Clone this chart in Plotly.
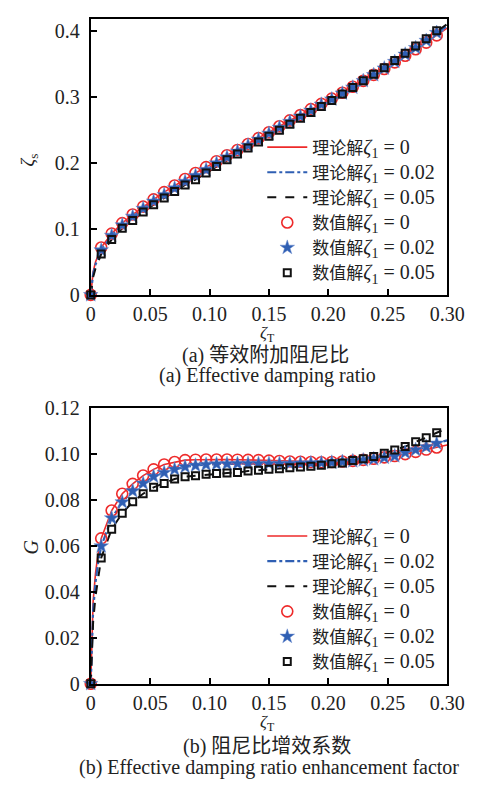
import plotly.graph_objects as go

# ---------------- data ----------------
zeta_T = [0, 0.0088, 0.0176, 0.0265, 0.0353, 0.0441, 0.0529, 0.0618, 0.0706, 0.0794,
          0.0882, 0.0971, 0.1059, 0.1147, 0.1235, 0.1324, 0.1412, 0.1500, 0.1588, 0.1676,
          0.1765, 0.1853, 0.1941, 0.2029, 0.2118, 0.2206, 0.2294, 0.2382, 0.2471, 0.2559,
          0.2647, 0.2735, 0.2824, 0.2912]

# (a) zeta_s
zs_0 = [0, 0.072, 0.093, 0.109, 0.122, 0.134, 0.145, 0.156, 0.166, 0.176, 0.185, 0.194,
        0.203, 0.212, 0.220, 0.229, 0.238, 0.247, 0.256, 0.265, 0.273, 0.282, 0.290, 0.298,
        0.307, 0.316, 0.325, 0.334, 0.343, 0.353, 0.363, 0.373, 0.383, 0.394]
zs_002 = [0, 0.068, 0.090, 0.106, 0.119, 0.131, 0.142, 0.152, 0.162, 0.172, 0.181, 0.190,
          0.200, 0.209, 0.218, 0.227, 0.236, 0.245, 0.254, 0.263, 0.271, 0.280, 0.289, 0.297,
          0.306, 0.315, 0.325, 0.334, 0.344, 0.354, 0.365, 0.375, 0.386, 0.398]
zs_005 = [0, 0.062, 0.084, 0.101, 0.113, 0.126, 0.137, 0.147, 0.157, 0.167, 0.175, 0.185,
          0.195, 0.205, 0.214, 0.223, 0.232, 0.241, 0.250, 0.259, 0.268, 0.277, 0.286, 0.295,
          0.305, 0.315, 0.325, 0.335, 0.345, 0.356, 0.367, 0.378, 0.389, 0.401]

# (b) G
G_0 = [0, 0.0632, 0.0753, 0.0826, 0.0869, 0.0905, 0.0932, 0.0953, 0.0964, 0.0972, 0.0974,
       0.0975, 0.0975, 0.0975, 0.0974, 0.0973, 0.0972, 0.0970, 0.0968, 0.0966, 0.0965,
       0.0964, 0.0963, 0.0964, 0.0966, 0.0969, 0.0973, 0.0978, 0.0984, 0.0990, 0.0998,
       0.1008, 0.1018, 0.1027]
G_002 = [0, 0.0598, 0.0720, 0.0790, 0.0838, 0.0871, 0.0901, 0.0918, 0.0932, 0.0943, 0.0949,
         0.0953, 0.0955, 0.0956, 0.0957, 0.0957, 0.0957, 0.0957, 0.0957, 0.0957, 0.0958,
         0.0959, 0.0960, 0.0962, 0.0965, 0.0968, 0.0972, 0.0977, 0.0983, 0.0990, 0.1005,
         0.1017, 0.1030, 0.1045]
G_005 = [0, 0.0547, 0.0672, 0.0741, 0.0791, 0.0826, 0.0854, 0.0871, 0.0890, 0.0900, 0.0904,
         0.0911, 0.0914, 0.0916, 0.0918, 0.0925, 0.0928, 0.0932, 0.0935, 0.0939, 0.0942,
         0.0946, 0.0950, 0.0956, 0.0960, 0.0970, 0.0978, 0.0988, 0.1002, 0.1016, 0.1031,
         0.1052, 0.1069, 0.1091]

# theory curves: extra near-origin points and end point
x_head = [0, 0.001, 0.002, 0.004, 0.006]
x_tail = [0.30]
zs_head = {"0": [0, 0.025, 0.035, 0.050, 0.060], "002": [0, 0.022, 0.032, 0.046, 0.056],
           "005": [0, 0.018, 0.027, 0.040, 0.050]}
zs_tail = {"0": [0.405], "002": [0.408], "005": [0.411]}
G_head = {"0": [0, 0.025, 0.036, 0.048, 0.056], "002": [0, 0.022, 0.032, 0.044, 0.052],
          "005": [0, 0.018, 0.027, 0.038, 0.046]}
G_tail = {"0": [0.1038], "002": [0.1058], "005": [0.1110]}

x_ticks = [0, 0.05, 0.10, 0.15, 0.20, 0.25, 0.30]
x_ticktext = ["0", "0.05", "0.10", "0.15", "0.20", "0.25", "0.30"]
ya_ticks = [0, 0.1, 0.2, 0.3, 0.4]
ya_ticktext = ["0", "0.1", "0.2", "0.3", "0.4"]
yb_ticks = [0, 0.02, 0.04, 0.06, 0.08, 0.10, 0.12]
yb_ticktext = ["0", "0.02", "0.04", "0.06", "0.08", "0.10", "0.12"]

def lbl(kind, val):
    return ('%s<span style="font-size:20px"><i>ζ</i><sub>1</sub> = %s</span>' % (kind, val))

names_line = [lbl("理论解", "0"), lbl("理论解", "0.02"), lbl("理论解", "0.05")]
names_mark = [lbl("数值解", "0"), lbl("数值解", "0.02"), lbl("数值解", "0.05")]

RED = "#EE2A2A"
BLUE = "#2F5FB3"
BLACK = "#111111"
W, H = 488, 793
FONT = "Liberation Serif, Noto Sans CJK SC"

fig = go.Figure()
xl = x_head + zeta_T[1:] + x_tail

def add_panel(xa, ya, legend, m0, m1, m2, head, tail):
    keys = ["0", "002", "005"]
    marks = [m0, m1, m2]
    styles = [dict(color=RED, width=1.6, dash="solid"),
              dict(color=BLUE, width=2.2, dash="dashdot"),
              dict(color=BLACK, width=2.0, dash="dash")]
    for k, m, st, nm in zip(keys, marks, styles, names_line):
        fig.add_trace(go.Scatter(x=xl, y=head[k] + m[1:] + tail[k], mode="lines",
                                 line=st, name=nm, xaxis=xa, yaxis=ya, legend=legend,
                                 cliponaxis=False))
    msty = [dict(symbol="circle-open", size=11, color=RED, line=dict(width=1.6, color=RED)),
            dict(symbol="star", size=11, color=BLUE, line=dict(width=0.5, color="#6f8fd0")),
            dict(symbol="square-open", size=7, color=BLACK, line=dict(width=2, color=BLACK))]
    for m, ms, nm in zip(marks, msty, names_mark):
        fig.add_trace(go.Scatter(x=zeta_T, y=m, mode="markers", marker=ms, name=nm,
                                 xaxis=xa, yaxis=ya, legend=legend, cliponaxis=False))

add_panel("x", "y", "legend", zs_0, zs_002, zs_005, zs_head, zs_tail)
add_panel("x2", "y2", "legend2", G_0, G_002, G_005, G_head, G_tail)

x0, x1 = 90 / W, 464 / W
axis_common = dict(showline=True, linecolor="black", linewidth=1.8, mirror=True,
                   ticks="inside", ticklen=6, tickwidth=1.5, tickcolor="black",
                   showgrid=False, zeroline=False,
                   tickfont=dict(family=FONT, size=20, color="#222"))

leg_common = dict(xanchor="left", yanchor="top", bgcolor="rgba(0,0,0,0)",
                  font=dict(family=FONT, size=17, color="#222"),
                  tracegroupgap=0, itemwidth=40)

fig.update_layout(
    width=W, height=H, margin=dict(l=0, r=0, t=0, b=0),
    paper_bgcolor="white", plot_bgcolor="white",
    font=dict(family=FONT, color="#222"),
    xaxis=dict(domain=[x0, x1], range=[0, 0.30], anchor="y", tickvals=x_ticks,
               ticktext=x_ticktext, **axis_common),
    yaxis=dict(domain=[1 - 292 / H, 1 - 8 / H], range=[0, 0.4192], anchor="x",
               tickvals=ya_ticks, ticktext=ya_ticktext, ticklabelstandoff=5, **axis_common),
    xaxis2=dict(domain=[x0, x1], range=[0, 0.30], anchor="y2", tickvals=x_ticks,
                ticktext=x_ticktext, **axis_common),
    yaxis2=dict(domain=[1 - 692 / H, 1 - 408 / H], range=[0, 0.12], anchor="x2",
                tickvals=yb_ticks, ticktext=yb_ticktext, ticklabelstandoff=5, **axis_common),
    legend=dict(x=270 / W, y=1 - 122 / H, **leg_common),
    legend2=dict(x=270 / W, y=1 - 522 / H, **leg_common),
)

def ann(text, x, y, size=20, angle=0):
    fig.add_annotation(text=text, x=x / W, y=1 - y / H, xref="paper", yref="paper",
                       showarrow=False, textangle=angle,
                       font=dict(family=FONT, size=size, color="#222"),
                       xanchor="center", yanchor="middle")

ann("<i>ζ</i><sub>T</sub>", 275, 332, size=17)
ann("<i>ζ</i><sub>s</sub>", 25, 153, size=19, angle=-90)
ann("(a) 等效附加阻尼比", 273, 354)
ann("(a) Effective damping ratio", 276, 375)
ann("<i>ζ</i><sub>T</sub>", 275, 732.5, size=17)
ann("<i>G</i>", 27, 551, size=20, angle=-90)
ann("(b) 阻尼比增效系数", 275, 756)
ann("(b) Effective damping ratio enhancement factor", 277, 778)

fig.write_html("out.html")
